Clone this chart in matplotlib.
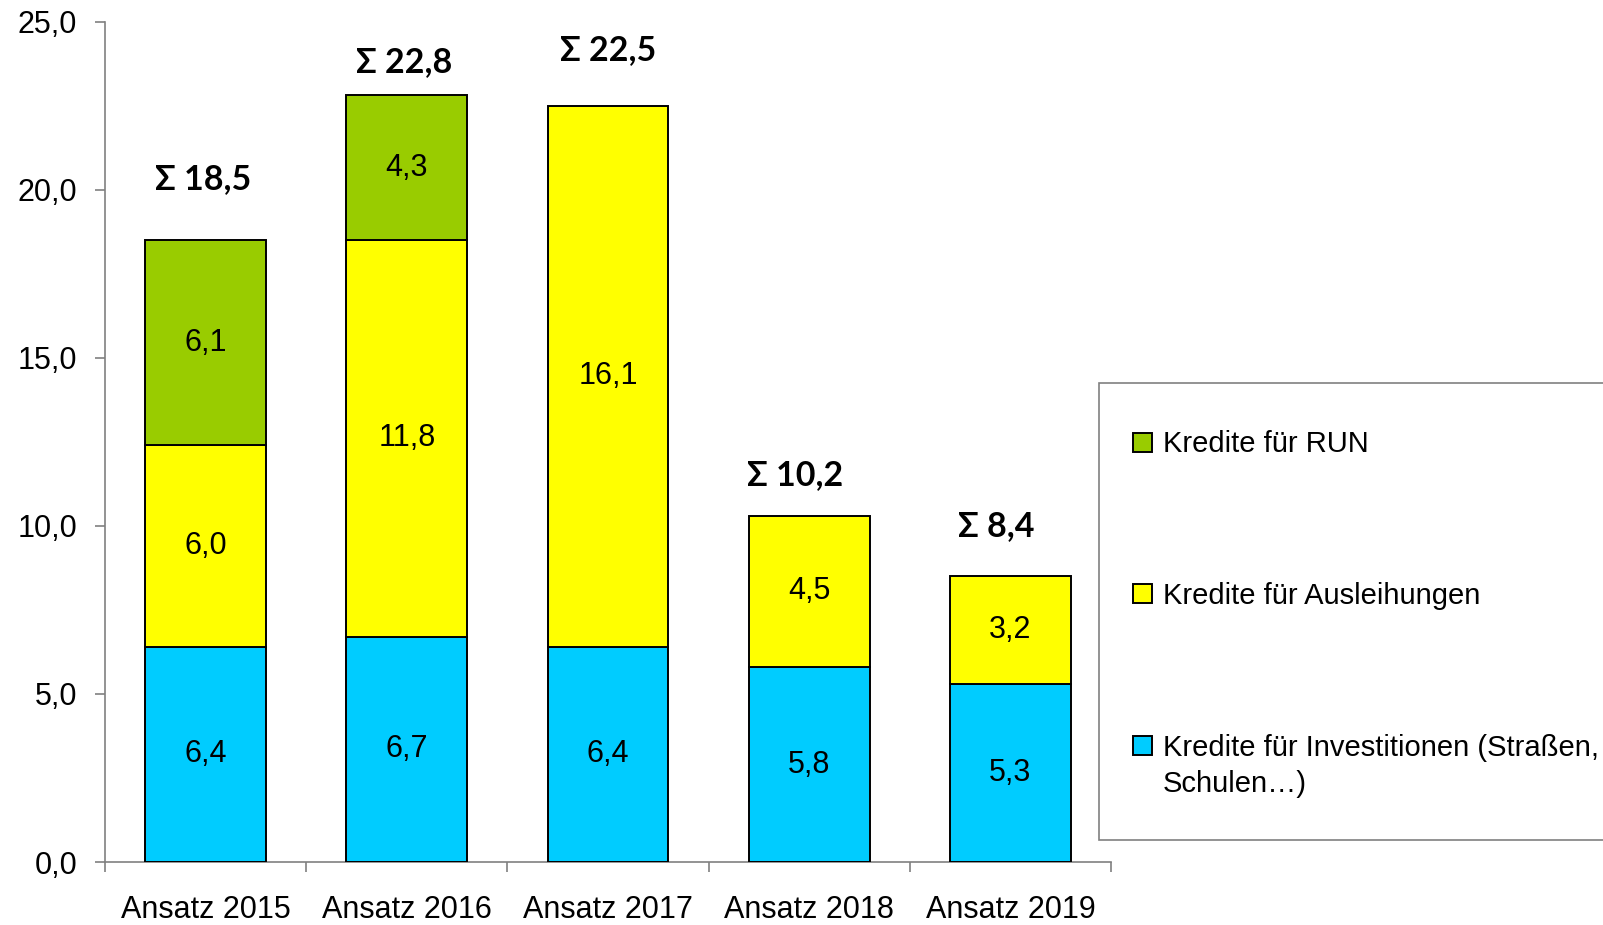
import matplotlib
matplotlib.use("Agg")
import matplotlib.pyplot as plt
from matplotlib.patches import Rectangle
import numpy as np

categories = ["Ansatz 2015", "Ansatz 2016", "Ansatz 2017", "Ansatz 2018", "Ansatz 2019"]
investitionen = [6.4, 6.7, 6.4, 5.8, 5.3]
ausleihungen = [6.0, 11.8, 16.1, 4.5, 3.2]
run = [6.1, 4.3, 0.0, 0.0, 0.0]
totals = [18.5, 22.8, 22.5, 10.2, 8.4]
series_names = ["Kredite für RUN", "Kredite für Ausleihungen",
                "Kredite für Investitionen (Straßen,\nSchulen…)"]
yticks = [0, 5, 10, 15, 20, 25]

# style
colors = {"inv": "#00CCFF", "aus": "#FFFF00", "run": "#99CC00"}
sum_dy = [1.8, 1.0, 1.65, 1.3, 1.6]
sum_dx = [-0.01, -0.015, 0.0, -0.07, -0.07]
grey = "#808080"
FS = 22

plt.rcParams['font.family'] = ['Liberation Sans', 'DejaVu Sans']

W, H = 1603, 925
fig = plt.figure(figsize=(W / 100, H / 100), dpi=100)
ax = fig.add_axes([105 / W, 1 - 862 / H, (1111 - 105) / W, (862 - 21.5) / H])

x = np.arange(len(categories))
bw = 0.6
inv = np.array(investitionen)
aus = np.array(ausleihungen)
rn = np.array(run)

ax.bar(x, inv, bw, color=colors["inv"], edgecolor="black", linewidth=1.4, zorder=3)
ax.bar(x, aus, bw, bottom=inv, color=colors["aus"], edgecolor="black", linewidth=1.4, zorder=3)
mask = rn > 0
ax.bar(x[mask], rn[mask], bw, bottom=(inv + aus)[mask], color=colors["run"],
       edgecolor="black", linewidth=1.4, zorder=3)

def fmt(v):
    return f"{v:.1f}".replace(".", ",")

for i in range(len(categories)):
    ax.text(x[i], inv[i] / 2, fmt(inv[i]), ha="center", va="center", fontsize=FS, zorder=4)
    ax.text(x[i], inv[i] + aus[i] / 2, fmt(aus[i]), ha="center", va="center", fontsize=FS, zorder=4)
    if rn[i] > 0:
        ax.text(x[i], inv[i] + aus[i] + rn[i] / 2, fmt(rn[i]), ha="center", va="center",
                fontsize=FS, zorder=4)
    ax.text(x[i] + sum_dx[i], totals[i] + sum_dy[i], "Σ " + fmt(totals[i]), ha="center",
            va="center", fontsize=24.5, fontweight="bold", family=["Lato", "Open Sans", "DejaVu Sans"],
            zorder=4)

ax.set_xlim(-0.5, len(categories) - 0.5)
ax.set_ylim(0, 25)
ax.set_yticks(yticks)
ax.set_yticklabels([fmt(v) for v in yticks], fontsize=FS)
ax.tick_params(axis="y", length=7, width=1.2, color=grey, pad=13)

ax.set_xticks(np.arange(-0.5, len(categories), 1.0))
ax.set_xticklabels([])
ax.set_xticks(x, minor=True)
ax.set_xticklabels(categories, minor=True, fontsize=FS)
ax.tick_params(axis="x", which="major", length=7, width=1.2, color=grey)
ax.tick_params(axis="x", which="minor", length=0, pad=24)

for s in ["top", "right"]:
    ax.spines[s].set_visible(False)
for s in ["left", "bottom"]:
    ax.spines[s].set_color(grey)
    ax.spines[s].set_linewidth(1.2)

# legend (manual)
def fx(px):
    return px / W

def fy(py):
    return 1 - py / H

fig.patches.append(Rectangle((fx(1099), fy(840)), fx(1700) - fx(1099), fy(383) - fy(840),
                             transform=fig.transFigure, facecolor="white", edgecolor=grey,
                             linewidth=1.2, clip_on=False))
leg_colors = [colors["run"], colors["aus"], colors["inv"]]
square_tops = [433, 584, 736]
for c, top, name in zip(leg_colors, square_tops, series_names):
    fig.patches.append(Rectangle((fx(1133), fy(top + 19)), fx(19), 19 / H,
                                 transform=fig.transFigure, facecolor=c, edgecolor="black",
                                 linewidth=1.4))
    for k, line in enumerate(name.split("\n")):
        fig.text(fx(1163), fy(top + 19.5 + 36 * k), line, fontsize=21, ha="left", va="baseline")

fig.savefig("out.png", dpi=100)
